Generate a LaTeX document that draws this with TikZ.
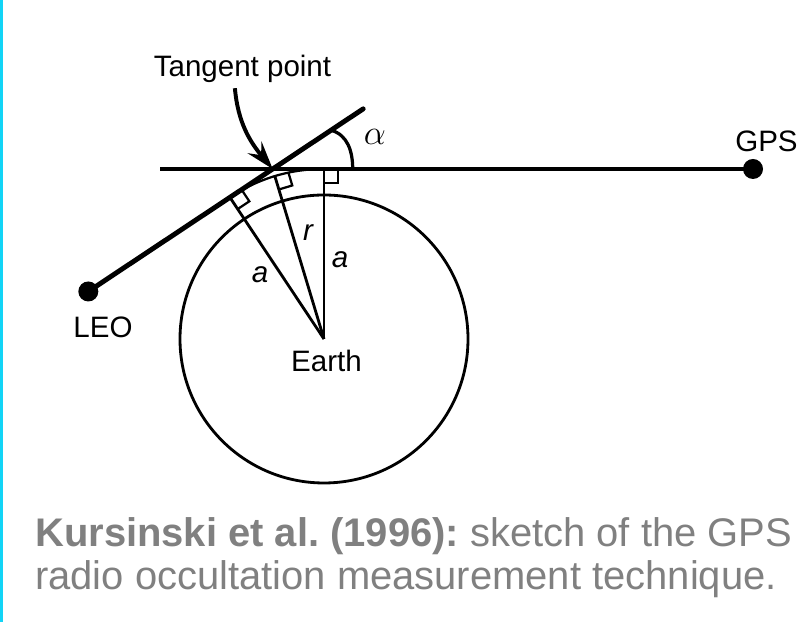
\documentclass[tikz,border=0pt]{standalone}
\usepackage{fontspec}
\setmainfont{Liberation Sans}
\usepackage{tikz}
\usetikzlibrary{arrows.meta,calc}
\definecolor{occcyan}{HTML}{12D4F6}
\definecolor{occgray}{HTML}{808080}
\frenchspacing

\begin{document}
\begin{tikzpicture}[
    x=0.025cm,y=0.025cm,
    lbl/.style={font=\fontsize{21}{25}\selectfont,inner sep=0pt},
    symb/.style={font=\fontsize{21}{25}\selectfont\itshape,inner sep=0pt},
    capt/.style={font=\fontsize{28.4}{33}\selectfont,text=occgray,inner sep=0pt,anchor=base west},
    sat/.style={circle,fill=black,inner sep=0pt,minimum size=0.5cm},
    ray/.style={line width=3.5pt,line cap=round},
    los/.style={line width=2.3pt},
    rad/.style={line width=2pt},
    rmark/.style={line width=1.6pt},
    arr/.style={-{Stealth[length=7mm,width=4.5mm,inset=2.5mm]},line width=2.8pt}
  ]
    \fill[white] (0,0) rectangle (798,622);
    \useasboundingbox (0,0) rectangle (798,622);
    \fill[occcyan] (0,0) rectangle (3,622);

    \coordinate (earthc) at (324,283);
    \coordinate (foot) at ($(earthc)+(123.6:170)$);
    \coordinate (top) at ($(earthc)+(0,170)$);
    \coordinate (raytip) at ($(foot)+(33.6:160)$);
    \coordinate (losstart) at (160,453);
    \node[sat] (leo) at ($(foot)+(213.6:170)$) {};
    \node[sat] (gps) at (753,453) {};
    \coordinate (cross) at (intersection of foot--raytip and losstart--top);
    \coordinate (tanpt) at ($0.25*(foot)+0.5*(cross)+0.25*(top)$);

    \draw[rad] (earthc) circle[radius=144];
    \draw[los] (losstart) -- (gps.center);
    \draw[ray] (leo.center) -- (raytip);
    \draw[rmark] (foot) .. controls ($(foot)!2/3!(cross)$) and ($(top)!2/3!(cross)$) .. (top);
    \draw[rad] (earthc) -- (foot);
    \draw[rad] (earthc) -- (tanpt);
    \draw[rad] (earthc) -- (top);
    \draw[rmark] ($(foot)+(33.6:14)$) -- ++(303.6:14) -- ($(foot)+(303.6:14)$);
    \draw[rmark] ($(tanpt)+(16.8:14)$) -- ++(286.8:14) -- ($(tanpt)+(286.8:14)$);
    \draw[rmark] ($(top)+(14,0)$) -- ++(0,-14) -- ($(top)+(0,-14)$);
    \draw[los] ($(cross)+(33.6:70)$) to[out=-15,in=90] ($(cross)+(80,0)$);

    \node[lbl,anchor=base] (tp) at (242.5,545) {Tangent point};
    \draw[arr] ([xshift=-0.19cm,yshift=-0.12cm]tp.south) to[out=-85,in=130] (cross);
    \node[font=\fontsize{28}{32}\selectfont,inner sep=0pt] (alph) at (375,485) {$\alpha$};
    \node[lbl,anchor=base west] (gpslbl) at (735,470) {GPS};
    \node[lbl,anchor=base] (leolbl) at (103,284) {LEO};
    \node[lbl,anchor=base] (earthlbl) at (326.5,250) {Earth};
    \node[symb,anchor=base] (aleft) at (260,339) {a};
    \node[symb,anchor=base] (rlbl) at (308,381) {r};
    \node[symb,anchor=base] (aright) at (340,354) {a};
    \node[capt] (cap1) at (35,75) {\textbf{Kursinski et al. (1996):} sketch of the GPS};
    \node[capt] (cap2) at (35,32) {radio occultation measurement technique.};
  \end{tikzpicture}
\end{document}
